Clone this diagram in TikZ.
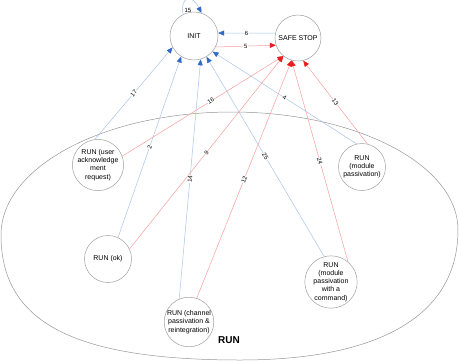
\documentclass[tikz,border=0pt]{standalone}
\usepackage{fontspec}
\setmainfont{Liberation Sans}
\usetikzlibrary{arrows.meta}
\definecolor{blueline}{RGB}{170,195,232}
\definecolor{bluetip}{RGB}{50,105,195}
\definecolor{redline}{RGB}{245,160,160}
\definecolor{redtip}{RGB}{230,30,30}
\definecolor{circgray}{RGB}{160,160,160}
\definecolor{ellgray}{RGB}{150,150,150}
\tikzset{
  state/.style={circle, draw=circgray, line width=0.5pt, fill=white, inner sep=0pt,
    align=center, font=\fontsize{7}{8.2}\selectfont},
  toinit/.style={draw=blueline, line width=0.5pt, -{Triangle[length=6pt,width=5pt,color=bluetip]}},
  tosafe/.style={draw=redline, line width=0.5pt, -{Triangle[length=6pt,width=5pt,color=redtip]}},
  lbl/.style={font=\fontsize{6}{6}\selectfont, fill=white, inner sep=0.4pt, sloped, pos=0.5}
}
\begin{document}
\begin{tikzpicture}[x=1pt,y=-1pt]
\useasboundingbox (0,0) rectangle (459,360);
% RUN area
\draw[ellgray, line width=0.5pt] (1,235) .. controls (1,167) and (104,112) .. (232,112)
  .. controls (357,112) and (458,165) .. (458,230)
  .. controls (458,314) and (382,360) .. (240,360)
  .. controls (73,360) and (1,322) .. (1,235) -- cycle;
\node[font=\fontsize{10}{12}\selectfont\bfseries] (runlbl) at (229,340) {RUN};
% states
\node[state, minimum size=48pt] (INIT) at (194,36) {INIT};
\node[state, minimum size=46pt] (SAFE) at (298,38) {SAFE STOP};
\node[state, minimum size=48pt] (ack) at (98,165) {RUN (user\\acknowledge\\ment\\request)};
\node[state, minimum size=47pt] (ok) at (108,259) {RUN (ok)};
\node[state, minimum size=48pt] (chan) at (189,322) {RUN (channel\\passivation \&\\reintegration)};
\node[state, minimum size=47pt] (modp) at (362,167) {RUN\\(module\\passivation)};
\node[state, minimum size=49pt] (modc) at (331,282) {RUN\\(module\\passivation\\with a\\command)};
% transitions to INIT
\draw[toinit] (INIT.117) .. controls (180,-4) and (192,-6) .. (INIT.72);
\node[font=\fontsize{6}{6}\selectfont] (l15) at (188,10) {15};
\draw[toinit] (SAFE.168) -- (INIT.7) node[lbl]{6};
\draw[toinit] (ack.97) -- (INIT.208) node[lbl]{17};
\draw[toinit] (ok.65) -- (INIT.238) node[lbl]{2};
\draw[toinit] (chan.113) -- (INIT.286) node[lbl]{14};
\draw[toinit] (modc.105) -- (INIT.301) node[lbl]{25};
\draw[toinit] (modp.103) -- (INIT.320) node[lbl]{4};
% transitions to SAFE STOP
\draw[tosafe] (INIT.333) -- (SAFE.198) node[lbl]{5};
\draw[tosafe] (ack.20) -- (SAFE.231) node[lbl, pos=0.55]{16};
\draw[tosafe] (ok.25) -- (SAFE.231) node[lbl]{9};
\draw[tosafe] (chan.72) -- (SAFE.254) node[lbl]{12};
\draw[tosafe] (modc.50) -- (SAFE.254) node[lbl]{24};
\draw[tosafe] (modp.77) -- (SAFE.283) node[lbl]{13};
\end{tikzpicture}
\end{document}
